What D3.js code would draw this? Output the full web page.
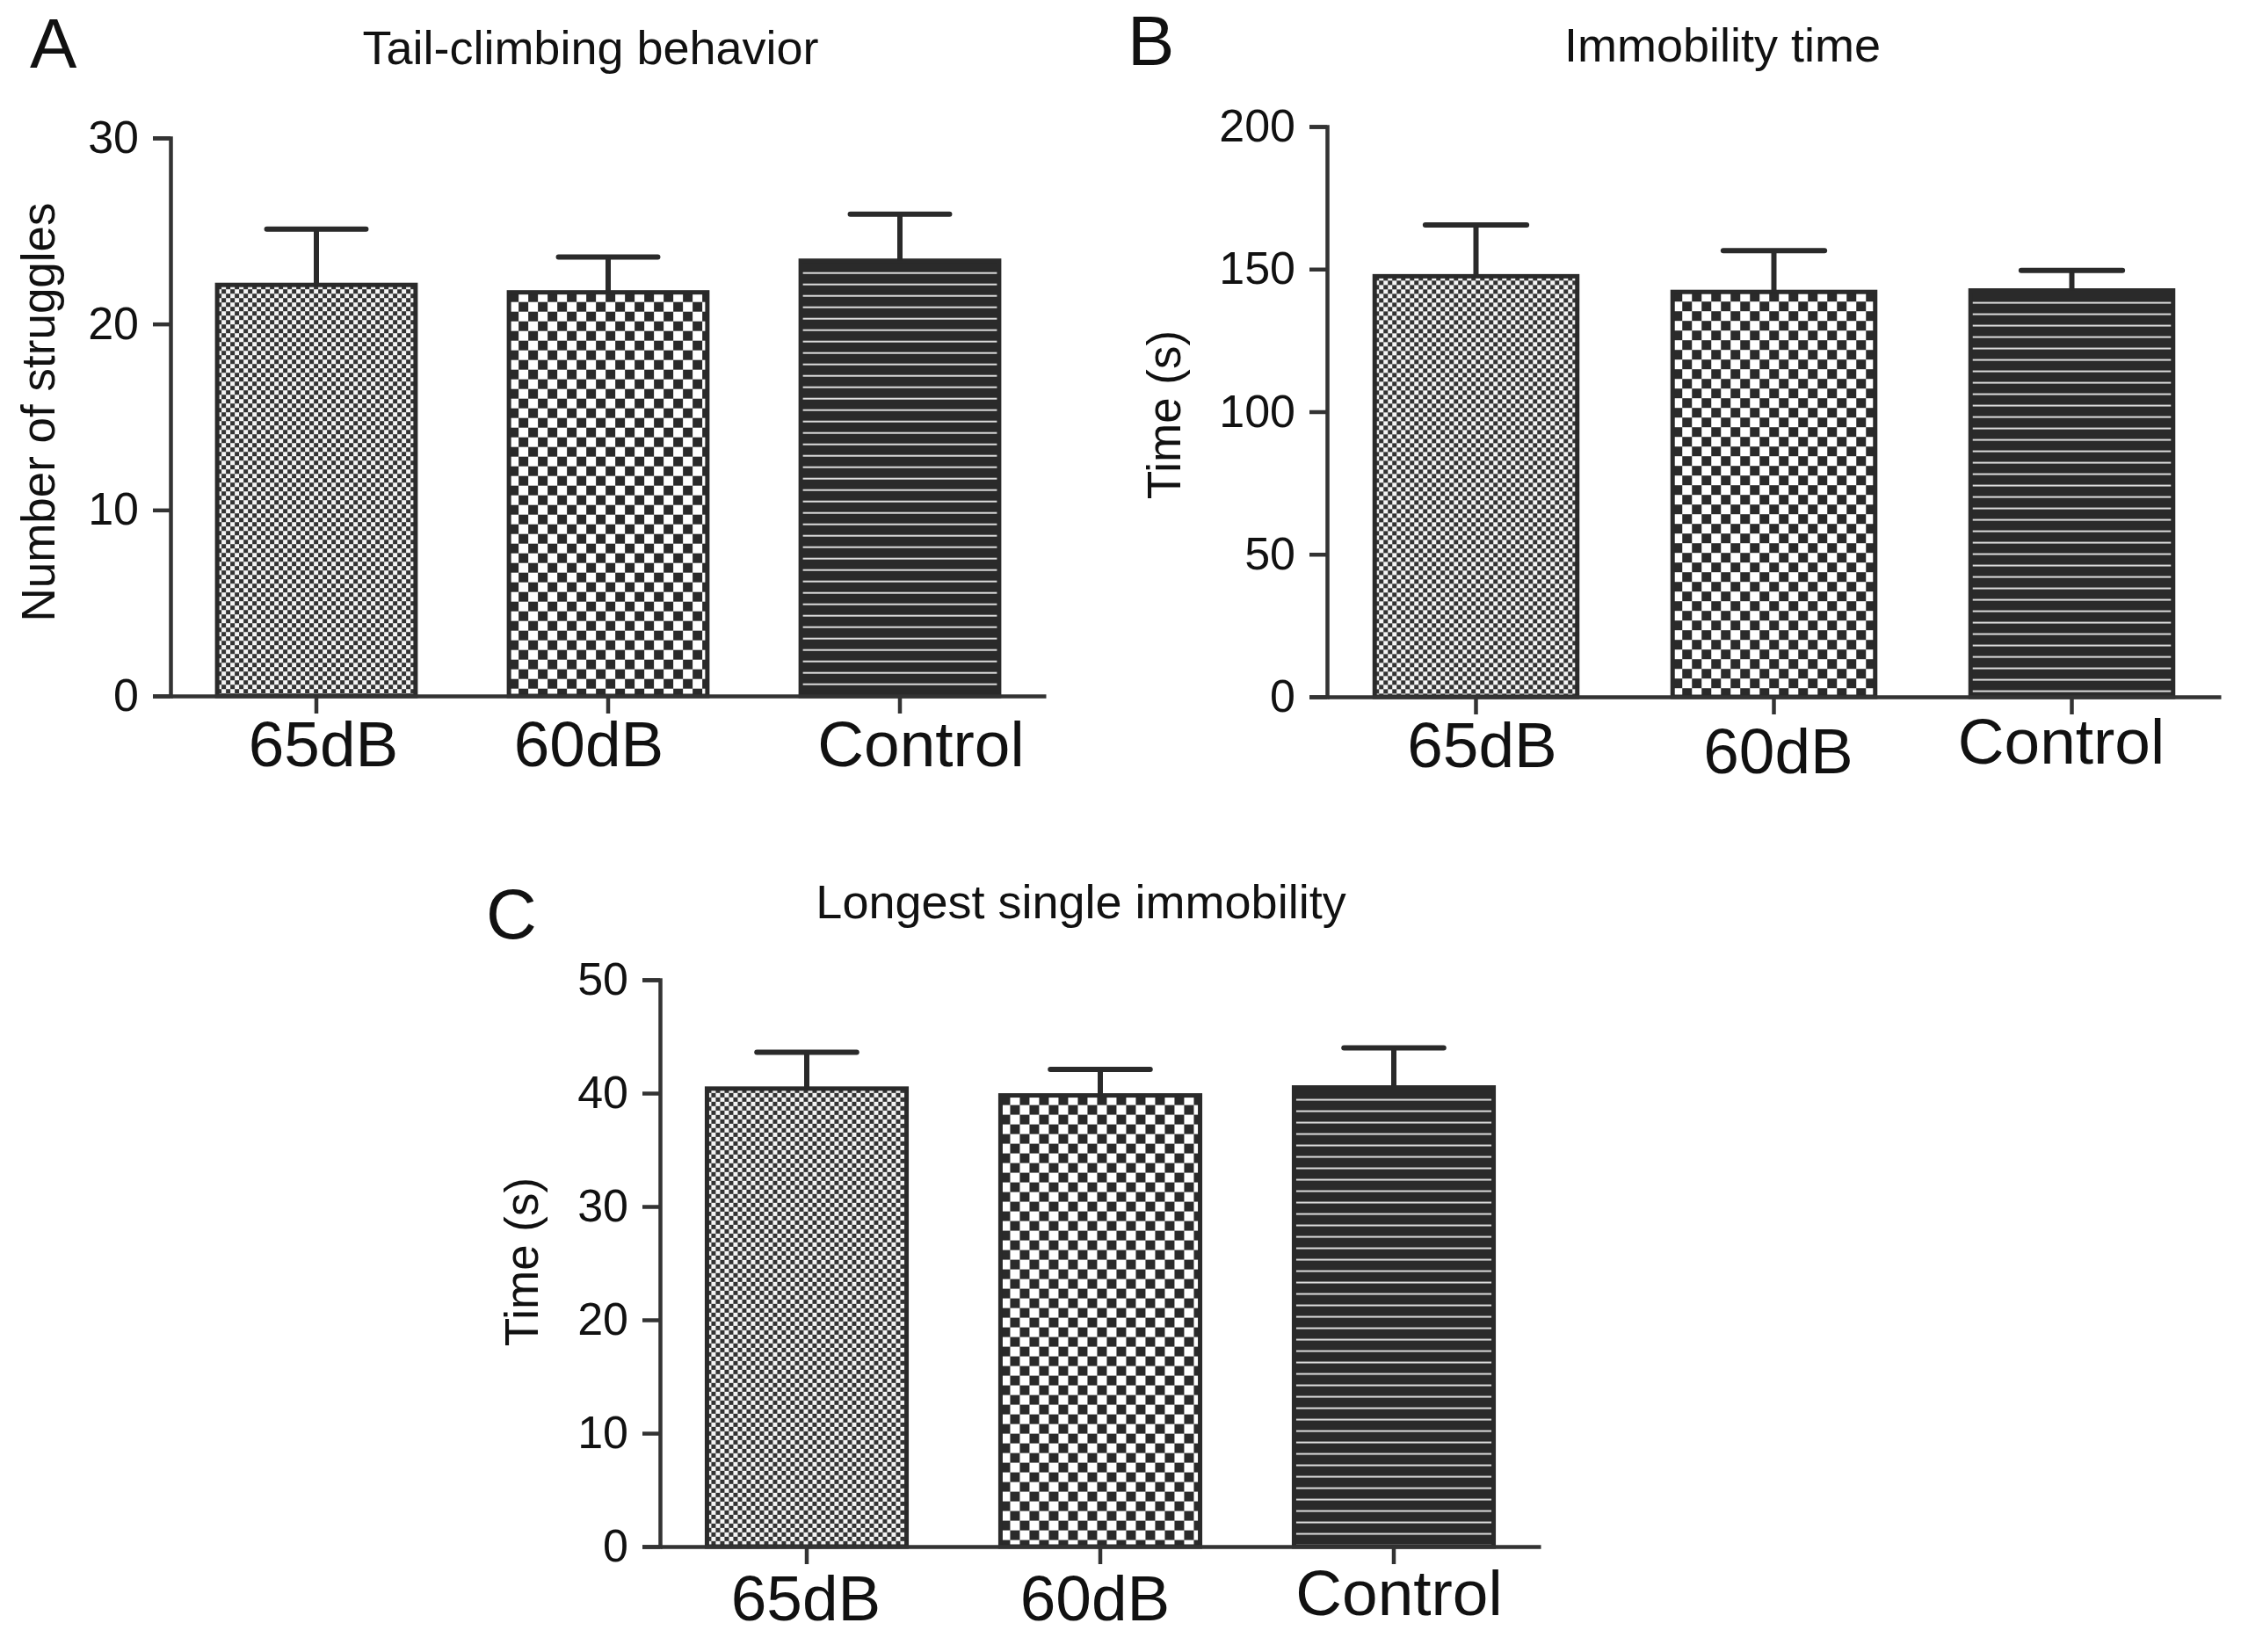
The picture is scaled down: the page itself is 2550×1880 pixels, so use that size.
<!DOCTYPE html>
<html>
<head>
<meta charset="utf-8">
<script src="https://cdn.jsdelivr.net/npm/d3@7"></script>
<style>
  body { margin: 0; background: #fff; }
  text { font-family: "Liberation Sans", Arial, Helvetica, sans-serif; fill: #111; }
</style>
</head>
<body>
<div id="chart"></div>
<script>
"use strict"

const groups = ["65dB", "60dB", "Control"]

// A: tail-climbing behavior
const struggleMeans = [22.1, 21.7, 23.4]
const struggleErr = [3.0, 1.9, 2.5]
const struggleTicks = [0, 10, 20, 30]

// B: immobility time
const immobMeans = [147.5, 142, 142.5]
const immobErr = [18, 14.5, 7]
const immobTicks = [0, 50, 100, 150, 200]

// C: longest single immobility
const longestMeans = [40.4, 39.8, 40.5]
const longestErr = [3.2, 2.3, 3.5]
const longestTicks = [0, 10, 20, 30, 40, 50]

const dark = "#2a2a2a"

const svg = d3.select("#chart")
  .append("svg")
  .attr("width", 2550)
  .attr("height", 1880)

const defs = svg.append("defs")

// one pattern per bar so the tile lines up with the bar's top-left corner
function makePattern(id, kind, x0, y0) {
  if (kind === 0) {
    // fine checker
    const p = defs.append("pattern").attr("id", id)
      .attr("patternUnits", "userSpaceOnUse")
      .attr("x", x0).attr("y", y0).attr("width", 10).attr("height", 10)
    p.append("rect").attr("width", 10).attr("height", 10).attr("fill", "#f4f4f4")
    p.append("rect").attr("width", 5).attr("height", 5).attr("fill", "#333")
    p.append("rect").attr("x", 5).attr("y", 5).attr("width", 5).attr("height", 5).attr("fill", "#333")
  } else if (kind === 1) {
    // coarse checker
    const s = 11
    const p = defs.append("pattern").attr("id", id)
      .attr("patternUnits", "userSpaceOnUse")
      .attr("x", x0).attr("y", y0).attr("width", 2 * s).attr("height", 2 * s)
    p.append("rect").attr("width", 2 * s).attr("height", 2 * s).attr("fill", "#fff")
    p.append("rect").attr("width", s).attr("height", s).attr("fill", dark)
    p.append("rect").attr("x", s).attr("y", s).attr("width", s).attr("height", s).attr("fill", dark)
  } else {
    // horizontal stripes
    const p = defs.append("pattern").attr("id", id)
      .attr("patternUnits", "userSpaceOnUse")
      .attr("x", x0 + 6).attr("y", y0 + 2).attr("width", 4000).attr("height", 13)
    p.append("rect").attr("width", 4000).attr("height", 13).attr("fill", dark)
    p.append("rect").attr("y", 11).attr("width", 4000).attr("height", 3).attr("fill", "#dcdcdc")
  }
}

function panel(cfg) {
  const { key, letter, title, yTitle, means, errs, ticks, x0, step, yTop, yBottom } = cfg
  const g = svg.append("g")

  const x = d3.scaleBand()
    .domain(groups)
    .range([x0, x0 + step * 3])
    .paddingInner(0.32)
    .paddingOuter(0.16)

  const y = d3.scaleLinear()
    .domain([0, d3.max(ticks)])
    .range([yBottom, yTop])

  // bars
  groups.forEach((grp, i) => {
    const bx = x(grp), by = y(means[i])
    const pid = "pat-" + key + "-" + i
    makePattern(pid, i, bx, by)
    g.append("rect")
      .attr("x", bx)
      .attr("y", by)
      .attr("width", x.bandwidth())
      .attr("height", yBottom - by)
      .attr("fill", "url(#" + pid + ")")
      .attr("stroke", dark)
      .attr("stroke-width", 5)
  })

  // error bars, upper half only
  groups.forEach((grp, i) => {
    const cx = x(grp) + x.bandwidth() / 2
    const top = y(means[i] + errs[i])
    const capHalf = x.bandwidth() / 4
    g.append("line")
      .attr("x1", cx).attr("x2", cx)
      .attr("y1", y(means[i])).attr("y2", top)
      .attr("stroke", dark).attr("stroke-width", 6)
    g.append("line")
      .attr("x1", cx - capHalf).attr("x2", cx + capHalf)
      .attr("y1", top).attr("y2", top)
      .attr("stroke", dark).attr("stroke-width", 6)
      .attr("stroke-linecap", "round")
  })

  // y axis
  const yAxis = g.append("g")
    .attr("transform", "translate(" + x0 + ",0)")
    .call(d3.axisLeft(y).tickValues(ticks).tickSize(20).tickPadding(16))
  yAxis.select(".domain").attr("stroke", "#333").attr("stroke-width", 4.5)
  yAxis.selectAll(".tick line").attr("stroke", "#333").attr("stroke-width", 4.5)
  yAxis.selectAll(".tick text")
    .attr("font-size", 52)
    .attr("font-family", "Liberation Sans, Arial, sans-serif")
    .attr("fill", "#111")

  // x axis
  const xAxis = g.append("g")
    .attr("transform", "translate(0," + yBottom + ")")
    .call(d3.axisBottom(x).tickSize(20).tickSizeOuter(0).tickPadding(8))
  xAxis.select(".domain").attr("stroke", "#333").attr("stroke-width", 4.5)
  xAxis.selectAll(".tick line").attr("stroke", "#333").attr("stroke-width", 4.5)
  xAxis.selectAll(".tick text")
    .attr("font-size", 73)
    .attr("font-family", "Liberation Sans, Arial, sans-serif")
    .attr("fill", "#111")
    .attr("transform", (d, i) => "translate(" + cfg.labelNudge[i][0] + "," + cfg.labelNudge[i][1] + ")")

  // titles
  g.append("text")
    .attr("x", cfg.letterX).attr("y", cfg.letterY)
    .attr("font-size", 80)
    .text(letter)

  g.append("text")
    .attr("x", cfg.titleX).attr("y", cfg.titleY)
    .attr("text-anchor", "middle")
    .attr("font-size", 54)
    .text(title)

  g.append("text")
    .attr("transform", "translate(" + cfg.yTitleX + "," + cfg.yTitleY + ") rotate(-90)")
    .attr("text-anchor", "middle")
    .attr("font-size", 53)
    .text(yTitle)
}

panel({
  key: "a", letter: "A", title: "Tail-climbing behavior", yTitle: "Number of struggles",
  means: struggleMeans, errs: struggleErr, ticks: struggleTicks,
  x0: 194, step: 332, yTop: 157, yBottom: 792,
  labelNudge: [[8, 0], [-22, 0], [24, 0]],
  letterX: 34, letterY: 77, titleX: 672, titleY: 73, yTitleX: 62, yTitleY: 469
})

panel({
  key: "b", letter: "B", title: "Immobility time", yTitle: "Time (s)",
  means: immobMeans, errs: immobErr, ticks: immobTicks,
  x0: 1510, step: 339, yTop: 144, yBottom: 793,
  labelNudge: [[7, 0], [5, 7], [-12, -4]],
  letterX: 1283, letterY: 74, titleX: 1960, titleY: 70, yTitleX: 1343, yTitleY: 472
})

panel({
  key: "c", letter: "C", title: "Longest single immobility", yTitle: "Time (s)",
  means: longestMeans, errs: longestErr, ticks: longestTicks,
  x0: 751, step: 334, yTop: 1115, yBottom: 1760,
  labelNudge: [[-1, 4], [-6, 4], [6, -2]],
  letterX: 553, letterY: 1068, titleX: 1230, titleY: 1045, yTitleX: 612, yTitleY: 1436
})
</script>
</body>
</html>
